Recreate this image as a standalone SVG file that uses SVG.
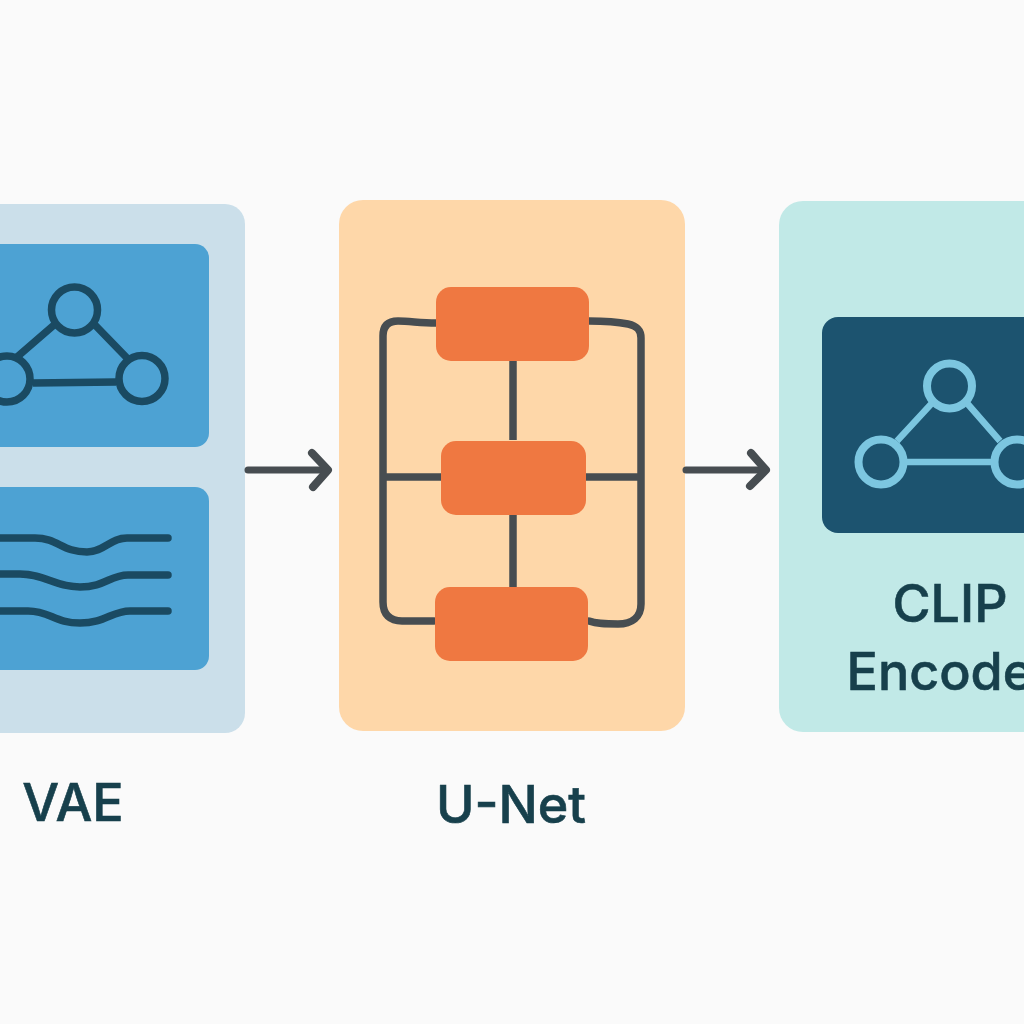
<svg xmlns="http://www.w3.org/2000/svg" width="1024" height="1024" viewBox="0 0 1024 1024">
<style>
.lbl{font-family:"Inter","Liberation Sans",sans-serif;font-weight:500;fill:#17404c;stroke:#17404c;stroke-width:.6;text-anchor:middle}
.dk{fill:none;stroke:#1a4a62;stroke-width:7.5;stroke-linecap:round;stroke-linejoin:round}
.lt{fill:none;stroke:#7cc6e0;stroke-linecap:butt}
.gr{fill:none;stroke:#474d51;stroke-width:7.5;stroke-linecap:round;stroke-linejoin:round}
.ar{fill:none;stroke:#474d51;stroke-linecap:round;stroke-linejoin:round}
.or{fill:#ef7841}
.bl{fill:#4da2d3}
</style>
<rect width="1024" height="1024" fill="#fafafa"/>
<g id="vae">
<rect x="-60" y="204" width="305" height="529" rx="20" fill="#cbdfea"/>
<rect x="-60" y="244" width="269" height="203" rx="14" class="bl"/>
<rect x="-60" y="487" width="269" height="183" rx="14" class="bl"/>
<g class="dk">
<circle cx="74.500" cy="310" r="23"/><circle cx="142" cy="378.500" r="23"/><circle cx="7" cy="379" r="23"/>
<path d="M54 325L17 357M95 325L127 358M33 383L116 382" stroke-linecap="butt"/>
<path d="M-5 538H35C58 538 62 552 87 552C104 552 110 538 127 538H168"/>
<path d="M-5 574H20C45 574 55 587 80 587C105 587 110 575 128 575H168"/>
<path d="M-5 611H28C50 611 55 623 80 623C105 623 112 611 130 611H168"/>
</g>
<text x="73" y="821" font-size="52" class="lbl">VAE</text>
</g>
<g id="unet">
<rect x="339" y="200" width="346" height="531" rx="24" fill="#fed7a9"/>
<g class="gr">
<path d="M436 323C420 323 410 321 398 321C388 321 383 326 383 336V602C383 615 390 621 402 621H434"/>
<path d="M589 321C605 321 618 322 628 324C637 326 641 330 641 338V604C641 617 632 624 618 624C605 624 597 624 589 621"/>
<path d="M513 360V440M513 514V588M385 477H441M585 477H641" stroke-linecap="butt"/>
</g>
<rect x="436" y="287" width="153" height="74" rx="15" class="or"/>
<rect x="441" y="441" width="145" height="74" rx="15" class="or"/>
<rect x="435" y="587" width="153" height="74" rx="15" class="or"/>
<text x="511" y="823" font-size="52" class="lbl">U-Net</text>
</g>
<g id="clip">
<rect x="779" y="201" width="300" height="531" rx="24" fill="#c1e9e7"/>
<rect x="822" y="317" width="260" height="216" rx="16" fill="#1c536f"/>
<g class="lt" stroke-width="8">
<circle cx="949.500" cy="386" r="22.500"/><circle cx="881" cy="462" r="22.500"/><circle cx="1017" cy="462" r="22.500"/>
<path d="M933 402L897 441M966 402L1000 441M905 462H992" stroke-width="6.500"/>
</g>
<text x="950" y="622" font-size="52" class="lbl">CLIP</text>
<text x="950" y="690" font-size="52" class="lbl">Encoder</text>
</g>
<g id="connectors">
<path class="ar" stroke-width="7" d="M248 470H326"/>
<path class="ar" stroke-width="8" d="M312 453L328 470L313 487"/>
<path class="ar" stroke-width="7" d="M686 470H765" stroke-linecap="butt"/>
<path class="ar" stroke-width="8" d="M751 453L766 470L750 486"/>
</g>
</svg>
